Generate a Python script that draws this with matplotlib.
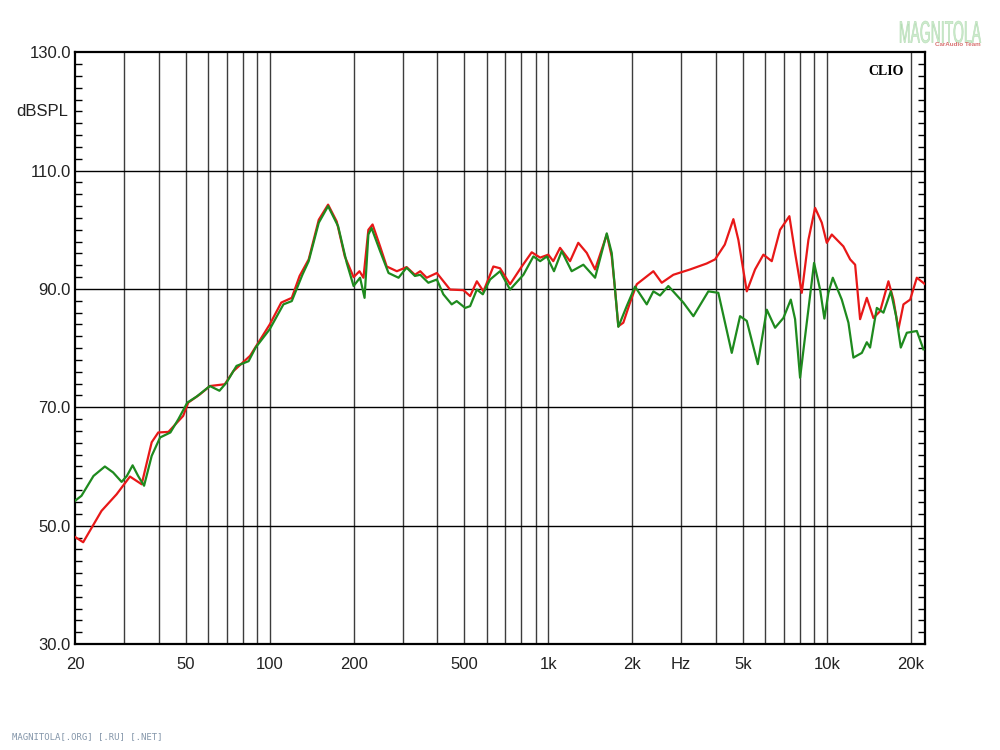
import matplotlib
matplotlib.use("Agg")
import matplotlib.pyplot as plt
from matplotlib.ticker import FixedLocator, NullFormatter, NullLocator
from matplotlib.textpath import TextPath
from matplotlib.patches import PathPatch
from matplotlib.font_manager import FontProperties
from matplotlib.transforms import Affine2D

plt.rcParams['font.family'] = ['Liberation Sans', 'DejaVu Sans']

# red trace (Hz, dBSPL)
red_f = [20, 21.4, 24.9, 28.2, 31.5, 34.7, 37.7, 39.8, 43.3, 48.9, 51, 56.2, 61, 69, 74, 85,
         100, 110, 120, 128, 138, 150, 162, 174, 186, 200, 210, 217, 226, 234, 249, 263,
         286, 310, 332, 347, 366, 398, 444, 496, 524, 554, 585, 635, 671, 729, 803, 872,
         935, 1000, 1042, 1102, 1197, 1281, 1374, 1472, 1621, 1689, 1736, 1784, 1859, 1965,
         2077, 2383, 2554, 2811, 3227, 3700, 3968, 4300, 4617, 4811, 5158, 5523, 5916, 6341, 6792, 7334,
         7688, 8126, 8583, 9071, 9587, 9992, 10414, 11460, 12120, 12630, 13160, 13910, 14690,
         15530, 16630, 17330, 18060, 18830, 19900, 21030, 22520]
red_db = [48.1, 47.2, 52.5, 55.3, 58.3, 57.0, 64.1, 65.75, 65.85, 68.55, 70.8, 72.2, 73.6, 73.9, 76.1, 78.7,
          84.0, 87.7, 88.5, 92.2, 95.0, 101.7, 104.25, 101.4, 95.5, 92.0, 93.0, 91.9, 100.0, 100.9, 97.2, 93.8,
          93.0, 93.7, 92.4, 93.0, 91.9, 92.7, 89.9, 89.8, 88.8, 91.3, 89.6, 93.8, 93.5, 90.8, 93.8, 96.2,
          95.3, 95.8, 94.7, 96.95, 94.7, 97.8, 96.1, 93.3, 99.2, 95.5, 89.9, 83.7, 84.3, 87.7,
          90.8, 93.0, 91.05, 92.4, 93.3, 94.3, 95.0, 97.5, 101.8, 98.3, 89.6, 93.3, 95.8, 94.7, 100.0, 102.3,
          96.1, 89.35, 98.3, 103.7, 101.2, 97.8, 99.2, 97.2, 95.0, 94.1, 84.9, 88.5, 85.1,
          86.25, 91.3, 88.2, 83.2, 87.4, 88.2, 91.9, 90.8]

# green trace (Hz, dBSPL)
green_f = [20, 21.1, 23.3, 25.6, 27.4, 29.4, 30.7, 32.2, 33.7, 35.4, 37.7, 40.4, 44, 47, 50.6, 54.6,
           61, 66, 70, 76, 84, 89, 100, 112, 120, 131, 138, 150, 162, 176, 189, 200, 211, 219,
           226, 232, 249, 267, 290, 310, 332, 347, 371, 398, 420, 450, 469, 503, 524, 554,
           582, 618, 671, 729, 814, 884, 935, 988, 1048, 1117, 1213, 1336, 1472, 1621, 1689,
           1736, 1784, 1912, 2048, 2256, 2383, 2518, 2697, 3053, 3317, 3754, 4077, 4556, 4879,
           5158, 5648, 6085, 6517, 6981, 7420, 7688, 8013, 8468, 8995, 9454, 9795, 10125, 10500,
           11310, 11950, 12450, 13350, 13910, 14290, 15110, 15960, 16960, 17720, 18420, 19360,
           21030, 22210]
green_db = [54.2, 55.05, 58.4, 60.0, 59.0, 57.4, 58.4, 60.2, 58.4, 56.75, 61.8, 64.9, 65.75, 68.0, 70.8, 71.8,
            73.6, 72.8, 74.2, 77.0, 77.8, 80.1, 83.2, 87.4, 87.95, 92.4, 94.7, 101.2, 104.0, 100.6, 94.4, 90.5, 91.9, 88.5,
            99.2, 100.3, 96.4, 92.7, 91.9, 93.6, 92.2, 92.4, 91.05, 91.6, 89.1, 87.4, 87.95, 86.8, 87.1, 89.9,
            89.1, 91.6, 93.0, 89.9, 92.4, 95.5, 94.7, 95.5, 93.0, 96.4, 93.0, 94.1, 91.9, 99.4, 96.1,
            89.9, 83.6, 87.1, 90.4, 87.4, 89.6, 88.9, 90.5, 87.7, 85.4, 89.6, 89.35, 79.2, 85.4,
            84.6, 77.3, 86.5, 83.45, 85.1, 88.2, 84.9, 75.0, 84.3, 94.4, 89.9, 85.0, 89.35, 91.9,
            88.2, 84.3, 78.4, 79.2, 81.0, 80.1, 86.8, 86.0, 89.6, 85.4, 80.1, 82.6,
            82.9, 79.8]

x_ticks = [20, 50, 100, 200, 500, 1000, 2000, 3000, 5000, 10000, 20000]
x_labels = ['20', '50', '100', '200', '500', '1k', '2k', 'Hz', '5k', '10k', '20k']
y_ticks = [30, 50, 70, 90, 110, 130]
y_labels = ['30.0', '50.0', '70.0', '90.0', '110.0', '130.0']

fig = plt.figure(figsize=(10, 7.5), dpi=100)
ax = fig.add_axes([0.075, 0.1413, 0.85, 0.789])

ax.set_xscale('log')
ax.set_xlim(20, 22500)
ax.set_ylim(30, 130)

# vertical grid: 1..9 per decade
vgrid = [m * 10 ** e for e in range(1, 5) for m in range(1, 10)]
vgrid = [v for v in vgrid if 20 < v < 22500]
for v in vgrid:
    ax.axvline(v, color='#3c3c3c', lw=1.0, zorder=1)
for h in y_ticks[1:-1]:
    ax.axhline(h, color='black', lw=1.0, zorder=1)

ax.plot(red_f, red_db, color='#e81818', lw=1.6, zorder=3)
ax.plot(green_f, green_db, color='#1e8a1e', lw=1.6, zorder=4)

ax.xaxis.set_major_locator(FixedLocator(x_ticks))
ax.xaxis.set_minor_locator(NullLocator())
ax.set_xticklabels(x_labels)
ax.xaxis.set_minor_formatter(NullFormatter())
ax.tick_params(axis='x', which='major', length=0, pad=9, labelsize=12, colors='#222222')

ax.set_yticks(y_ticks)
ax.set_yticklabels(y_labels)
ax.set_yticks(list(range(30, 131, 2)), minor=True)
ax.tick_params(axis='y', which='both', direction='in', left=True, right=True,
               labelsize=12, colors='#222222', pad=3)
ax.tick_params(axis='y', which='major', length=0)
ax.tick_params(axis='y', which='minor', length=5, width=1, color='black')

for s in ax.spines.values():
    s.set_linewidth(1.6)
    s.set_color('black')

ax.text(-0.008, 0.9, 'dBSPL', transform=ax.transAxes, ha='right', va='center',
        fontsize=12, color='#222222')
ax.text(0.975, 0.978, 'CLIO', transform=ax.transAxes, ha='right', va='top',
        fontsize=10, fontweight='bold', family=['Liberation Serif', 'DejaVu Serif'])

# watermark, squeezed into the top-right corner box (pixels)
tp = TextPath((0, 0), 'MAGNITOLA', size=30, prop=FontProperties(family='Liberation Sans'))
ext = tp.get_extents()
box_x0, box_x1, box_y0, box_y1 = 900, 981, 750 - 43, 750 - 21
tr = (Affine2D().translate(-ext.x0, -ext.y0)
      .scale((box_x1 - box_x0) / ext.width, (box_y1 - box_y0) / ext.height)
      .translate(box_x0, box_y0))
fig.patches.append(PathPatch(tr.transform_path(tp), facecolor='#cdebcd',
                             edgecolor='#b5dcb5', lw=0.4, transform=None))
fig.text(0.958, 0.94, 'CarAudio Team', ha='center', va='center', fontsize=4.5,
         color='#d87070', fontweight='bold')
fig.text(0.012, 0.012, 'MAGNITOLA[.ORG] [.RU] [.NET]', ha='left', va='bottom',
         fontsize=6.5, color='#8496aa', family=['DejaVu Sans Mono'])

fig.savefig('out.png', dpi=100)
